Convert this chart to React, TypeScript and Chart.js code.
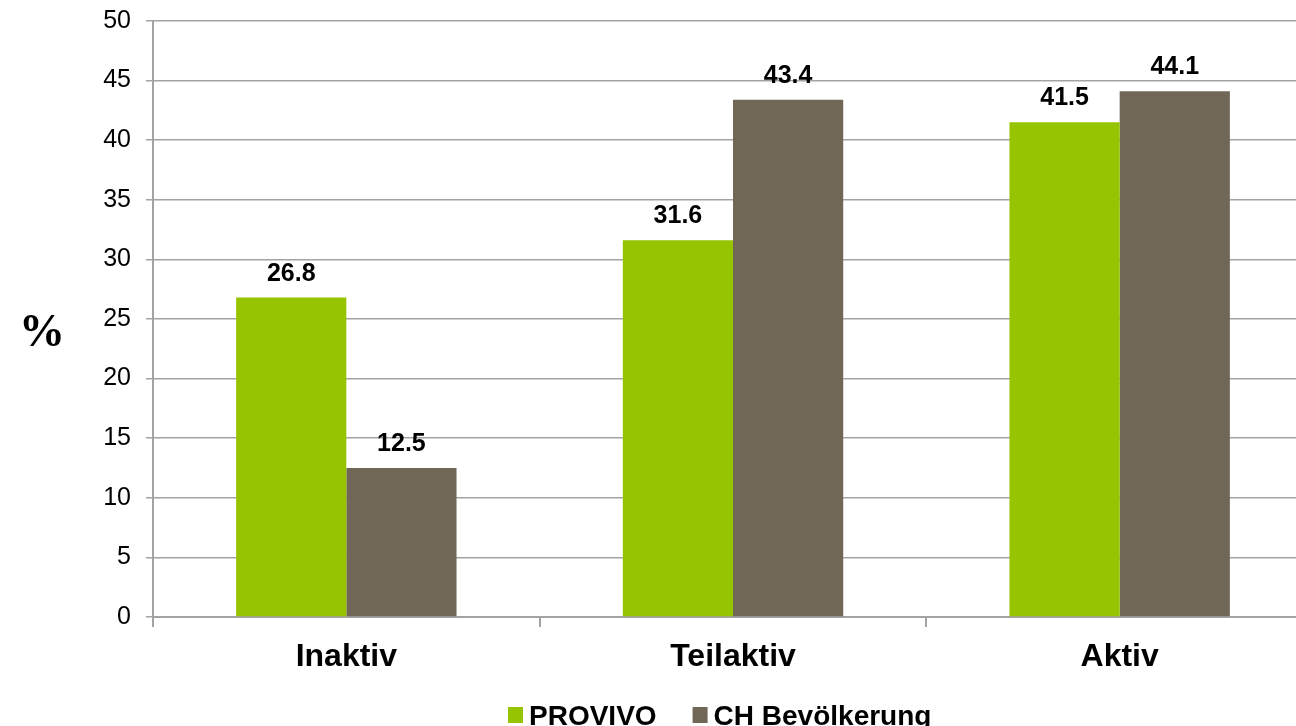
import React, { useEffect, useRef } from 'react';
import { Chart, registerables } from 'chart.js';

Chart.register(...registerables);

const categories = ['Inaktiv', 'Teilaktiv', 'Aktiv'];
const seriesNames = ['PROVIVO', 'CH Bevölkerung'];
const provivo = [26.8, 31.6, 41.5];
const chBevoelkerung = [12.5, 43.4, 44.1];
const yMin = 0;
const yMax = 50;
const yStep = 5;
const axisUnit = '%';

const GREEN = '#96c400';
const BROWN = '#716756';
const GRID = '#a3a3a3';
const SANS = '"Liberation Sans", Arial, sans-serif';
const SERIF = '"Liberation Serif", "Times New Roman", serif';

const CANVAS_W = 1330;
const CANVAS_H = 726;

const labelsPlugin = {
  id: 'valueLabels',
  afterDatasetsDraw(chart: any) {
    const ctx = chart.ctx;
    ctx.save();
    ctx.font = `bold 25px ${SANS}`;
    ctx.fillStyle = '#000';
    ctx.textAlign = 'center';
    ctx.textBaseline = 'alphabetic';
    chart.data.datasets.forEach((ds: any, di: number) => {
      const meta = chart.getDatasetMeta(di);
      meta.data.forEach((bar: any, i: number) => {
        ctx.fillText(Number(ds.data[i]).toFixed(1), bar.x, bar.y - 17);
      });
    });
    ctx.restore();
  },
};

const extrasPlugin = {
  id: 'extras',
  afterDraw(chart: any) {
    const ctx = chart.ctx;
    ctx.save();
    ctx.font = `bold 46px ${SERIF}`;
    ctx.fillStyle = '#000';
    ctx.textAlign = 'center';
    ctx.textBaseline = 'middle';
    ctx.fillText(axisUnit, 42, 334);
    ctx.font = `bold 28px ${SANS}`;
    ctx.textAlign = 'left';
    ctx.textBaseline = 'alphabetic';
    let x = 508;
    chart.data.datasets.forEach((ds: any) => {
      ctx.fillStyle = ds.backgroundColor;
      ctx.fillRect(x, 707, 15, 16);
      ctx.fillStyle = '#000';
      const tx = x + 21;
      ctx.fillText(ds.label, tx, 725);
      x = tx + ctx.measureText(ds.label).width + 36;
    });
    ctx.restore();
  },
};

export default function App() {
  const ref = useRef<HTMLCanvasElement>(null);
  useEffect(() => {
    if (!ref.current) return;
    const chart = new Chart(ref.current, {
      type: 'bar',
      data: {
        labels: categories,
        datasets: [
          { label: seriesNames[0], data: provivo, backgroundColor: GREEN, borderWidth: 0 },
          { label: seriesNames[1], data: chBevoelkerung, backgroundColor: BROWN, borderWidth: 0 },
        ],
      },
      options: {
        responsive: false,
        animation: false,
        devicePixelRatio: 1,
        layout: { padding: { left: 0, top: 21, right: CANVAS_W - 1313, bottom: 0 } },
        plugins: { legend: { display: false }, tooltip: { enabled: false } },
        datasets: { bar: { categoryPercentage: 0.57, barPercentage: 1.0 } },
        scales: {
          x: {
            grid: { display: true, offset: true, drawOnChartArea: false, drawTicks: true, tickLength: 10, color: GRID, lineWidth: 2 },
            border: { display: true, color: GRID, width: 2 },
            ticks: { color: '#000', font: { family: SANS, size: 32, weight: 'bold' }, padding: 11, maxRotation: 0 },
            afterFit: (scale: any) => {
              scale.height = CANVAS_H - 617;
              scale.paddingLeft = 0;
              scale.paddingRight = 0;
            },
          },
          y: {
            min: yMin,
            max: yMax,
            ticks: { stepSize: yStep, color: '#000', font: { family: SANS, size: 25 }, padding: 15 },
            grid: { color: GRID, lineWidth: 1.5, drawTicks: true, tickLength: 7 },
            border: { display: true, color: GRID, width: 2 },
            afterFit: (scale: any) => {
              scale.width = 153;
              scale.paddingTop = 0;
              scale.paddingBottom = 0;
            },
          },
        },
      },
      plugins: [labelsPlugin, extrasPlugin],
    });
    return () => chart.destroy();
  }, []);
  return (
    <div style={{ position: 'fixed', left: 0, top: 0, width: 1296, height: 726, overflow: 'hidden', background: '#fff' }}>
      <canvas ref={ref} width={CANVAS_W} height={CANVAS_H} style={{ display: 'block', width: CANVAS_W, height: CANVAS_H }} />
    </div>
  );
}
